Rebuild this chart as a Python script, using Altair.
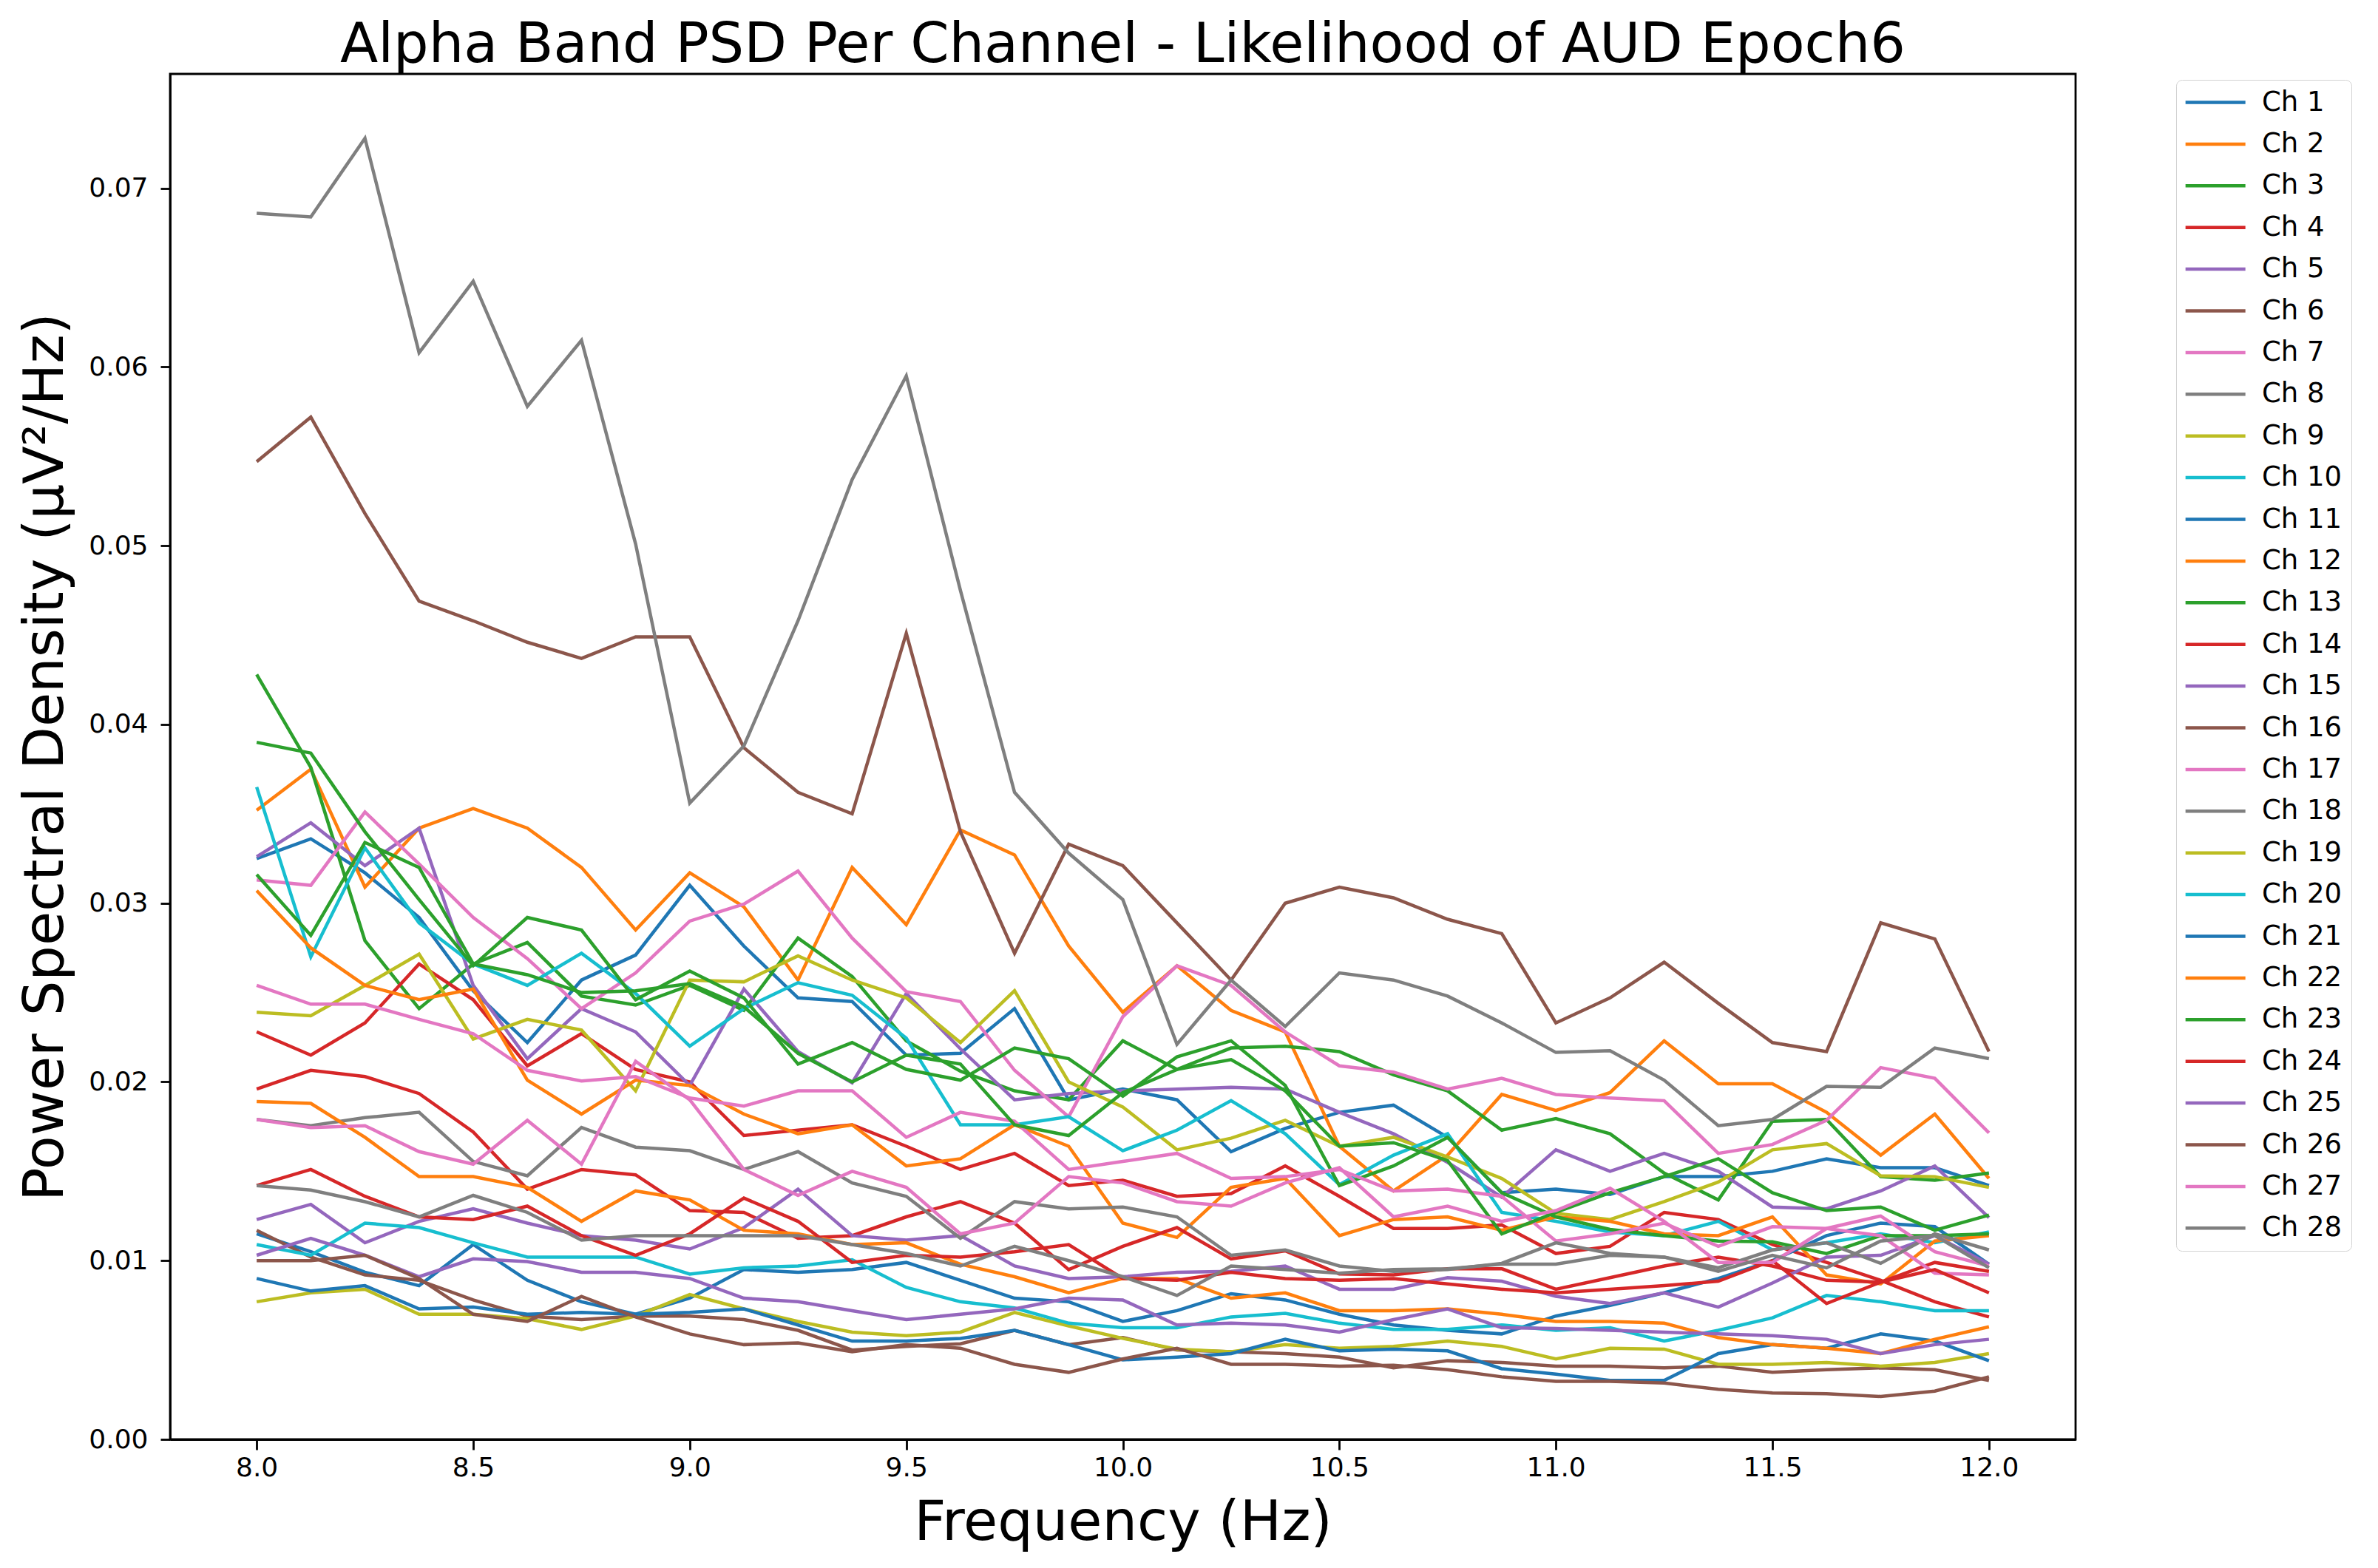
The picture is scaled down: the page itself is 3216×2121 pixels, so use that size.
import altair as alt
import pandas as pd

FREQS = [8.0, 8.125, 8.25, 8.375, 8.5, 8.625, 8.75, 8.875, 9.0, 9.125,
         9.25, 9.375, 9.5, 9.625, 9.75, 9.875, 10.0, 10.125, 10.25,
         10.375, 10.5, 10.625, 10.75, 10.875, 11.0, 11.125, 11.25, 11.375,
         11.5, 11.625, 11.75, 11.875, 12.0]

# PSD values in units of 1e-3 uV^2/Hz
CH1 = [32.5, 33.6, 31.7, 29.2, 25.1, 22.2, 25.7, 27.1, 31.0, 27.6,
       24.7, 24.5, 21.5, 21.6, 24.1, 19.0, 19.6, 19.0, 16.1,
       17.4, 18.3, 18.7, 16.9, 13.8, 14.0, 13.7, 14.7, 14.7,
       15.0, 15.7, 15.2, 15.2, 14.2]
CH2 = [35.2, 37.5, 30.9, 34.2, 35.3, 34.2, 32.0, 28.5, 31.7, 29.8,
       25.7, 32.0, 28.8, 34.1, 32.7, 27.6, 23.9, 26.5, 24.0,
       22.8, 16.4, 13.9, 15.9, 19.3, 18.4, 19.4, 22.3, 19.9,
       19.9, 18.3, 15.9, 18.2, 14.6]
CH3 = [42.8, 37.6, 27.9, 24.1, 26.6, 27.8, 24.8, 24.3, 25.4, 24.0,
       28.05, 25.9, 22.3, 20.6, 19.5, 19.0, 22.3, 20.7, 21.9,
       22.0, 21.7, 20.4, 19.5, 17.3, 17.95, 17.1, 14.9, 13.4,
       17.8, 17.9, 14.7, 14.5, 14.9]
CH4 = [22.8, 21.5, 23.3, 26.6, 24.6, 20.9, 22.7, 20.7, 20.0, 17.0,
       17.3, 17.6, 16.4, 15.1, 16.0, 14.2, 14.5, 13.6, 13.75,
       15.3, 13.6, 11.8, 11.8, 12.0, 10.4, 10.8, 12.7, 12.3,
       10.9, 9.9, 8.9, 7.7, 6.85]
CH5 = [32.6, 34.5, 32.1, 34.2, 25.4, 21.3, 24.1, 22.8, 19.8, 25.2,
       21.7, 19.95, 24.95, 21.85, 19.0, 19.35, 19.5, 19.6, 19.7,
       19.6, 18.3, 17.1, 15.5, 13.55, 16.2, 15.0, 16.0, 15.0,
       13.0, 12.9, 13.9, 15.3, 12.4]
CH6 = [54.7, 57.2, 51.8, 46.9, 45.8, 44.6, 43.7, 44.9, 44.9, 38.7,
       36.2, 35.0, 45.1, 34.0, 27.2, 33.3, 32.1, 28.9, 25.7,
       30.0, 30.9, 30.3, 29.1, 28.3, 23.3, 24.7, 26.7, 24.4,
       22.2, 21.7, 28.9, 28.0, 21.7]
CH7 = [31.3, 31.0, 35.1, 32.2, 29.2, 26.9, 24.1, 26.1, 29.0, 29.95,
       31.8, 28.05, 25.05, 24.5, 20.65, 18.05, 23.65, 26.5, 25.4,
       22.8, 20.9, 20.55, 19.6, 20.2, 19.3, 19.1, 18.95, 16.0,
       16.5, 17.85, 20.8, 20.2, 17.15]
CH8 = [68.6, 68.4, 72.8, 60.8, 64.8, 57.8, 61.5, 50.1, 35.6, 38.8,
       45.8, 53.7, 59.5, 47.5, 36.2, 32.8, 30.2, 22.1, 25.7,
       23.1, 26.1, 25.7, 24.8, 23.3, 21.65, 21.75, 20.1, 17.55,
       17.9, 19.75, 19.7, 21.9, 21.3]
CH9 = [23.9, 23.7, 25.4, 27.15, 22.4, 23.5, 22.9, 19.5, 25.7, 25.6,
       27.05, 25.7, 24.7, 22.2, 25.1, 20.0, 18.6, 16.2, 16.85,
       17.85, 16.4, 16.9, 15.8, 14.6, 12.65, 12.3, 13.3, 14.4,
       16.2, 16.55, 14.75, 14.7, 14.1]
CH10 = [36.5, 27.0, 33.1, 28.9, 26.6, 25.4, 27.2, 24.95, 22.0, 24.1,
        25.55, 24.85, 22.45, 17.6, 17.6, 18.05, 16.15, 17.3, 18.95,
        17.1, 14.25, 15.9, 17.1, 12.7, 12.2, 11.6, 11.4, 12.2,
        10.6, 11.0, 11.5, 11.0, 11.6]
CH11 = [11.5, 10.5, 9.35, 8.6, 10.9, 8.9, 7.7, 7.0, 7.9, 9.5,
        9.35, 9.5, 9.9, 8.9, 7.9, 7.7, 6.6, 7.2, 8.15,
        7.8, 7.0, 6.4, 6.1, 5.9, 6.9, 7.5, 8.2, 9.0,
        10.0, 11.4, 12.1, 11.9, 9.8]
CH12 = [30.7, 27.5, 25.4, 24.6, 25.2, 20.1, 18.2, 20.1, 19.8, 18.2,
        17.1, 17.6, 15.3, 15.7, 17.6, 16.4, 12.1, 11.3, 14.1,
        14.6, 11.4, 12.3, 12.45, 11.7, 12.45, 12.2, 11.5, 11.4,
        12.45, 9.2, 8.7, 11.1, 11.4]
CH13 = [39.0, 38.4, 34.0, 30.2, 26.5, 29.2, 28.5, 24.6, 26.2, 24.7,
        21.0, 22.2, 20.7, 20.1, 21.9, 21.3, 19.2, 21.4, 22.3,
        19.8, 14.2, 15.3, 16.9, 13.8, 12.45, 11.75, 11.4, 11.1,
        11.05, 10.4, 11.4, 11.4, 11.5]
CH14 = [19.6, 20.65, 20.3, 19.35, 17.2, 14.0, 15.1, 14.8, 12.8, 12.7,
        11.25, 11.4, 12.45, 13.3, 12.1, 9.5, 10.8, 11.85, 10.1,
        10.55, 9.25, 9.2, 9.55, 9.55, 8.4, 9.05, 9.7, 10.2,
        9.7, 8.9, 8.8, 9.9, 9.4]
CH15 = [12.3, 13.15, 11.0, 12.2, 12.9, 12.1, 11.4, 11.15, 10.65, 11.85,
        14.0, 11.4, 11.15, 11.4, 9.7, 9.0, 9.1, 9.35, 9.4,
        9.7, 8.4, 8.4, 9.05, 8.85, 8.0, 7.6, 8.2, 7.4,
        8.75, 10.2, 10.3, 11.4, 9.8]
CH16 = [11.7, 10.2, 9.2, 8.9, 7.8, 6.9, 6.7, 6.9, 6.9, 6.7,
        6.1, 5.0, 5.2, 5.35, 6.1, 5.3, 5.7, 5.0, 4.9,
        4.8, 4.6, 4.0, 4.4, 4.3, 4.1, 4.1, 4.0, 4.1,
        3.75, 3.9, 4.0, 3.9, 3.3]
CH17 = [25.4, 24.35, 24.35, 23.5, 22.7, 20.65, 20.05, 20.3, 19.1, 18.65,
        19.5, 19.5, 16.9, 18.3, 17.8, 15.1, 15.55, 16.0, 14.6,
        14.7, 15.1, 13.9, 14.0, 13.6, 11.1, 11.5, 12.1, 10.8,
        11.9, 11.8, 11.4, 9.3, 9.2]
CH18 = [17.9, 17.55, 18.0, 18.3, 15.55, 14.75, 17.45, 16.35, 16.15, 15.1,
        16.1, 14.35, 13.6, 11.25, 13.3, 12.9, 13.0, 12.45, 10.3,
        10.6, 9.7, 9.4, 9.5, 9.85, 11.0, 10.4, 10.2, 9.6,
        10.6, 11.0, 9.85, 11.5, 10.6]
CH19 = [7.7, 8.2, 8.4, 7.0, 7.0, 6.75, 6.15, 6.9, 8.1, 7.3,
        6.6, 6.0, 5.8, 6.0, 7.1, 6.35, 5.65, 5.05, 4.9,
        5.3, 5.1, 5.2, 5.5, 5.2, 4.5, 5.1, 5.05, 4.2,
        4.2, 4.3, 4.1, 4.3, 4.8]
CH20 = [10.9, 10.3, 12.1, 11.85, 11.0, 10.2, 10.2, 10.2, 9.25, 9.6,
        9.7, 10.05, 8.5, 7.7, 7.35, 6.5, 6.25, 6.25, 6.85,
        7.05, 6.5, 6.15, 6.15, 6.4, 6.1, 6.25, 5.5, 6.1,
        6.8, 8.05, 7.7, 7.2, 7.2]
CH21 = [9.0, 8.3, 8.6, 7.3, 7.4, 7.0, 7.1, 7.0, 7.1, 7.3,
        6.4, 5.5, 5.5, 5.65, 6.1, 5.3, 4.45, 4.6, 4.8,
        5.6, 4.95, 5.05, 4.95, 3.95, 3.65, 3.3, 3.3, 4.8,
        5.3, 5.1, 5.9, 5.5, 4.4]
CH22 = [18.9, 18.8, 16.9, 14.7, 14.7, 14.1, 12.2, 13.9, 13.4, 11.7,
        11.5, 10.9, 11.0, 9.8, 9.1, 8.2, 9.0, 9.0, 7.9,
        8.2, 7.2, 7.2, 7.3, 7.0, 6.6, 6.6, 6.5, 5.7,
        5.3, 5.1, 4.8, 5.6, 6.3]
CH23 = [31.6, 28.2, 33.4, 32.0, 26.6, 26.0, 25.0, 25.1, 25.5, 24.2,
        21.6, 20.0, 21.5, 21.0, 17.6, 17.0, 19.4, 20.7, 21.25,
        19.5, 16.4, 16.6, 15.6, 11.5, 12.7, 13.8, 14.7, 15.7,
        13.8, 12.8, 13.0, 11.7, 12.55]
CH24 = [14.2, 15.1, 13.6, 12.45, 12.3, 13.05, 11.4, 10.3, 11.5, 13.5,
        12.2, 9.9, 10.3, 10.2, 10.5, 10.9, 9.0, 8.9, 9.35,
        9.0, 8.9, 9.0, 8.7, 8.4, 8.2, 8.4, 8.6, 8.85,
        10.0, 7.6, 8.8, 9.5, 8.2]
CH25 = [10.3, 11.25, 10.3, 9.1, 10.1, 9.95, 9.35, 9.35, 9.0, 7.9,
        7.7, 7.2, 6.7, 7.0, 7.3, 7.9, 7.8, 6.4, 6.5,
        6.4, 6.0, 6.7, 7.3, 6.25, 6.2, 6.1, 6.0, 5.9,
        5.8, 5.6, 4.8, 5.3, 5.6]
CH26 = [10.0, 10.0, 10.3, 9.0, 7.0, 6.6, 8.0, 6.85, 5.9, 5.3,
        5.4, 4.9, 5.3, 5.1, 4.2, 3.75, 4.5, 5.1, 4.2,
        4.2, 4.1, 4.15, 3.9, 3.5, 3.25, 3.25, 3.15, 2.8,
        2.6, 2.55, 2.4, 2.7, 3.5]
CH27 = [17.9, 17.45, 17.55, 16.1, 15.4, 17.85, 15.4, 21.15, 19.0, 15.1,
        13.65, 15.0, 14.1, 11.5, 12.1, 14.7, 14.35, 13.3, 13.05,
        14.35, 15.2, 12.45, 13.05, 12.2, 12.8, 14.05, 12.2, 9.9,
        9.9, 11.8, 12.5, 10.5, 9.7]
CH28 = [14.2, 13.95, 13.3, 12.45, 13.65, 12.7, 11.15, 11.4, 11.4, 11.4,
        11.4, 10.9, 10.4, 9.7, 10.8, 10.0, 9.1, 8.05, 9.7,
        9.5, 9.3, 9.5, 9.55, 9.8, 9.8, 10.3, 10.2, 9.4,
        10.3, 9.6, 11.1, 11.4, 9.6]

SERIES = [CH1, CH2, CH3, CH4, CH5, CH6, CH7, CH8, CH9, CH10,
          CH11, CH12, CH13, CH14, CH15, CH16, CH17, CH18, CH19, CH20,
          CH21, CH22, CH23, CH24, CH25, CH26, CH27, CH28]
CHANNELS = ["Ch %d" % (k + 1) for k in range(len(SERIES))]
TAB10 = ["#1f77b4", "#ff7f0e", "#2ca02c", "#d62728", "#9467bd",
         "#8c564b", "#e377c2", "#7f7f7f", "#bcbd22", "#17becf"]
COLORS = [TAB10[k % 10] for k in range(len(SERIES))]
X_TICKS = [8.0, 8.5, 9.0, 9.5, 10.0, 10.5, 11.0, 11.5, 12.0]
Y_TICKS = [0.0, 0.01, 0.02, 0.03, 0.04, 0.05, 0.06, 0.07]

rows = []
for name, vals in zip(CHANNELS, SERIES):
    for f, v in zip(FREQS, vals):
        rows.append({"freq": f, "psd": v / 1000.0, "ch": name})
df = pd.DataFrame(rows)

FONT = "DejaVu Sans"
W, H = 2577, 1847

chart = alt.Chart(df).mark_line(strokeWidth=4.5, clip=True).encode(
    x=alt.X("freq:Q",
            scale=alt.Scale(domain=[7.8, 12.2], nice=False, zero=False),
            axis=alt.Axis(values=X_TICKS, format=".1f", title="Frequency (Hz)",
                          labelFontSize=36, titleFontSize=75, tickSize=14,
                          labelPadding=7, titleY=135, titleBaseline="alphabetic",
                          titleFontWeight="normal", labelFlush=False,
                          labelFont=FONT, titleFont=FONT, grid=False)),
    y=alt.Y("psd:Q",
            scale=alt.Scale(domain=[0, 0.0764], nice=False, zero=False),
            axis=alt.Axis(values=Y_TICKS, format=".2f",
                          title="Power Spectral Density (μV²/Hz)",
                          labelFontSize=36, titleFontSize=75, tickSize=13,
                          labelPadding=17, titleX=-146, titleY=H / 2,
                          titleAngle=270, titleAlign="center",
                          titleBaseline="alphabetic", titleFontWeight="normal",
                          labelFlush=False, labelFont=FONT, titleFont=FONT,
                          grid=False)),
    color=alt.Color("ch:N", sort=CHANNELS,
                    scale=alt.Scale(domain=CHANNELS, range=COLORS),
                    legend=alt.Legend(title=None, orient="none",
                                      legendX=2713, legendY=8,
                                      symbolType="M-1.1,0L3.9,0", symbolSize=1050,
                                      symbolStrokeWidth=4.5,
                                      labelFontSize=37, labelFont=FONT,
                                      labelOffset=67, rowPadding=18.4,
                                      padding=12, strokeColor="#d3d3d3",
                                      fillColor="white", cornerRadius=8,
                                      labelColor="black", labelLimit=400)),
).properties(
    width=W, height=H,
    title=alt.TitleParams("Alpha Band PSD Per Channel - Likelihood of AUD Epoch6",
                          fontSize=75, font=FONT, fontWeight="normal",
                          anchor="middle", offset=-59, baseline="alphabetic",
                          color="black"),
    autosize=alt.AutoSizeParams(type="none"),
    padding={"left": 222, "top": 92, "right": 395, "bottom": 160},
    background="white",
).configure_axis(
    labelFont=FONT, titleFont=FONT, titleFontWeight="normal",
    labelColor="black", titleColor="black",
    domainColor="black", domainWidth=2.8, tickColor="black", tickWidth=2.8,
    grid=False,
).configure_view(
    stroke="black", strokeWidth=2.8,
)

chart.save("out.html", embed_options={"renderer": "svg", "actions": False})
